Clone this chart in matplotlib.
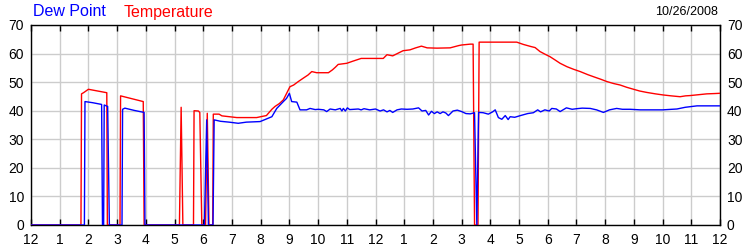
import matplotlib
matplotlib.use("Agg")
import matplotlib.pyplot as plt

plt.rcParams['font.family'] = ['Liberation Sans', 'DejaVu Sans']

# Hours since midnight, temperature (°F); zeros are missing readings
temp_hours = [0, 1.74, 1.76, 1.83, 2.0, 2.64, 2.66, 3.10, 3.12, 3.91, 3.94,
              5.17, 5.23, 5.29, 5.66, 5.68, 5.83, 5.88, 5.95, 6.08, 6.14, 6.20,
              6.33, 6.35, 6.55, 6.65, 7.17, 7.86, 8.0, 8.2, 8.39, 8.5, 8.65,
              8.79, 8.9, 9.02, 9.15, 9.31, 9.5, 9.65, 9.78, 9.95, 10.36, 10.5,
              10.6, 10.7, 11.0, 11.2, 11.5, 12.27, 12.4, 12.6, 12.8, 12.96,
              13.2, 13.4, 13.6, 13.8, 14.14, 14.6, 14.9, 15.0, 15.3, 15.40,
              15.45, 15.57, 15.61, 16.92, 17.15, 17.4, 17.56, 17.73, 17.9,
              18.08, 18.25, 18.43, 18.67, 18.9, 19.13, 19.4, 19.65, 19.85,
              20.06, 20.3, 20.52, 20.75, 20.99, 21.2, 21.45, 21.75, 22.03,
              22.3, 22.61, 22.8, 22.96, 23.25, 23.54, 23.8, 24.0]
temp_vals = [0, 0, 45.9, 46.3, 47.5, 46.3, 0, 0, 45.2, 43.2, 0,
             0, 41.2, 0, 0, 40.0, 39.9, 39.4, 0, 0, 39.1, 0,
             0, 38.8, 38.8, 38.2, 37.6, 37.6, 37.9, 38.3, 40.5, 41.5, 42.5,
             43.8, 46.0, 48.4, 49.0, 50.2, 51.5, 52.5, 53.7, 53.3, 53.3, 54.3,
             55.2, 56.2, 56.6, 57.3, 58.3, 58.3, 59.6, 59.2, 60.2, 61.0,
             61.3, 62.0, 62.6, 62.0, 61.9, 62.0, 62.8, 63.0, 63.3, 63.3,
             0, 0, 64.0, 64.0, 63.2, 62.5, 62.1, 60.7, 59.8,
             58.9, 57.8, 56.6, 55.4, 54.5, 53.7, 52.6, 51.7, 51.0,
             50.2, 49.5, 49.0, 48.2, 47.5, 46.9, 46.4, 45.9, 45.5,
             45.2, 44.9, 45.2, 45.3, 45.6, 45.9, 46.0, 46.1]

dew_hours = [0, 1.86, 1.88, 2.15, 2.46, 2.49, 2.53, 2.55, 2.67, 2.73, 3.17,
             3.19, 3.27, 3.6, 3.94, 3.97, 6.04, 6.12, 6.18, 6.34, 6.38, 6.6,
             6.9, 7.22, 7.5, 7.98, 8.15, 8.39, 8.56, 8.79, 8.9, 9.0, 9.08,
             9.26, 9.37, 9.6, 9.72, 9.9, 10.01, 10.2, 10.3, 10.42, 10.6,
             10.77, 10.83, 10.88, 10.95, 11.02, 11.1, 11.4, 11.5, 11.6, 11.8,
             12.0, 12.16, 12.28, 12.4, 12.5, 12.6, 12.75, 12.9, 13.1, 13.3,
             13.5, 13.62, 13.75, 13.85, 13.95, 14.05, 14.15, 14.25, 14.35,
             14.45, 14.54, 14.7, 14.85, 15.0, 15.15, 15.3, 15.45, 15.53,
             15.59, 15.75, 15.93, 16.08, 16.17, 16.28, 16.4, 16.52, 16.62,
             16.69, 16.85, 17.05, 17.3, 17.5, 17.65, 17.75, 17.9, 18.05,
             18.14, 18.3, 18.43, 18.65, 18.85, 19.0, 19.2, 19.48, 19.7,
             19.94, 20.15, 20.4, 20.6, 20.87, 21.22, 22.0, 22.5, 22.79,
             23.2, 24.0]
dew_vals = [0, 0, 43.2, 42.8, 42.2, 0, 0, 42.0, 41.5, 0, 0,
            40.5, 40.9, 40.1, 39.4, 0, 0, 36.8, 0, 0, 36.8, 36.3,
            36.0, 35.6, 36.0, 36.2, 36.9, 37.9, 40.8, 43.2, 44.3, 46.1, 43.2,
            43.0, 40.3, 40.3, 40.8, 40.4, 40.5, 40.3, 39.7, 40.6, 40.3,
            40.8, 39.9, 40.8, 39.9, 41.0, 40.4, 40.6, 40.3, 40.7, 40.3,
            40.6, 39.9, 40.3, 39.6, 40.1, 39.4, 40.3, 40.6, 40.5, 40.6,
            41.0, 39.9, 40.1, 38.5, 39.8, 39.0, 39.6, 39.0, 39.6,
            39.2, 38.3, 39.9, 40.2, 39.7, 39.0, 38.9, 39.3, 0,
            39.4, 39.3, 38.8, 39.6, 40.3, 37.6, 37.0, 38.3, 36.9,
            37.9, 37.7, 38.3, 39.0, 39.3, 40.3, 39.6, 40.3, 39.9,
            40.8, 40.6, 39.7, 41.0, 40.5, 40.7, 40.9, 40.8, 40.3,
            39.4, 40.3, 40.8, 40.5, 40.5, 40.3, 40.3, 40.6, 41.2,
            41.7, 41.7]

x_tick_labels = ['12', '1', '2', '3', '4', '5', '6', '7', '8', '9', '10', '11',
                 '12', '1', '2', '3', '4', '5', '6', '7', '8', '9', '10', '11', '12']
y_ticks = [0, 10, 20, 30, 40, 50, 60, 70]

fig = plt.figure(figsize=(7.5, 2.5), dpi=100)
ax = fig.add_axes([31/750, 25/250, 689/750, 200/250])

ax.plot(temp_hours, temp_vals, color='#ff0000', lw=1.0, zorder=3)
ax.plot(dew_hours, dew_vals, color='#0000ff', lw=1.0, zorder=4)

ax.set_xlim(0, 24)
ax.set_ylim(0, 70)
ax.set_xticks(range(25))
ax.set_xticklabels(x_tick_labels)
ax.set_yticks(y_ticks)
ax.grid(True, color='#cccccc', lw=1.0, zorder=0)
ax.set_axisbelow(True)

ax.tick_params(axis='x', direction='in', length=4, width=1, color='black',
               top=True, bottom=True, labelsize=10, pad=6)
ax.tick_params(axis='y', length=0, labelsize=10, pad=5,
               left=True, right=True, labelleft=True, labelright=True)
for s in ax.spines.values():
    s.set_color('black')
    s.set_linewidth(1.0)

fig.text(33/750, 1 - 12/250, 'Dew Point', color='#0000ff', fontsize=11.5,
         ha='left', va='center')
fig.text(124/750, 1 - 12/250, 'Temperature', color='#ff0000', fontsize=11.5,
         ha='left', va='center')
fig.text(718/750, 1 - 12/250, '10/26/2008', color='black', fontsize=9,
         ha='right', va='center')

fig.savefig('out.png', dpi=100)
